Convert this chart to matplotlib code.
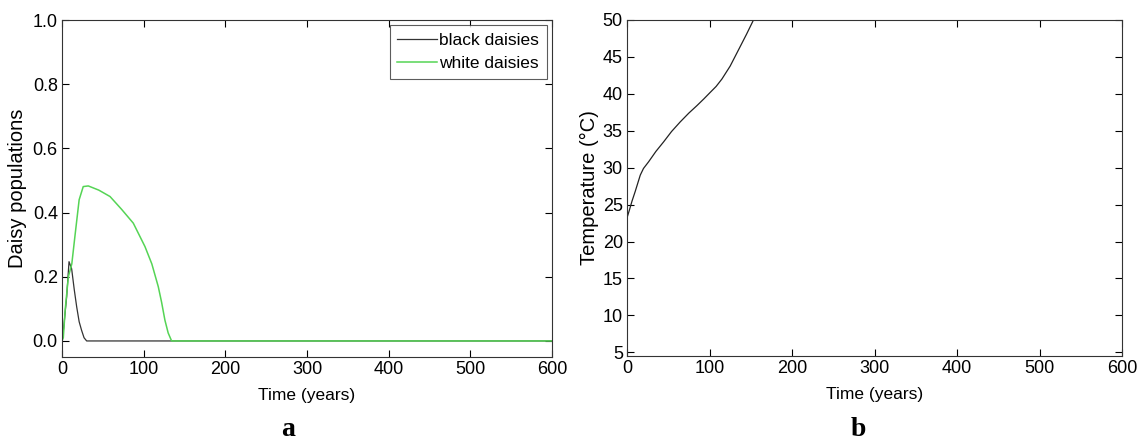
import matplotlib
matplotlib.use("Agg")
import matplotlib.pyplot as plt

plt.rcParams['font.family'] = ['Liberation Sans', 'DejaVu Sans']
plt.rcParams['font.size'] = 12

# Daisy populations over time
t_black = [0, 2, 5.7, 8.6, 11.8, 15, 18, 21, 24, 27, 30.2, 60, 200, 400, 600]
black = [0, 0.04, 0.1375, 0.247, 0.225, 0.16, 0.106, 0.06, 0.033, 0.01, 0, 0, 0, 0, 0]

t_white = [0, 1.6, 4, 7.8, 12, 16, 21, 26, 32.2, 45, 58.8, 73, 87.3, 101.6,
           110, 117.9, 122, 126, 130, 134.2, 200, 400, 600]
white = [0, 0.01, 0.1, 0.2, 0.24, 0.33, 0.44, 0.481, 0.483, 0.47, 0.45, 0.41,
         0.367, 0.294, 0.24, 0.169, 0.12, 0.065, 0.025, 0, 0, 0, 0]

# Global temperature over time
t_temp = [0, 3, 6, 10, 16.1, 20, 26.2, 35, 44.4, 54, 64.5, 75, 84.7, 93,
          100.9, 108, 115, 125, 137.2, 145, 153.3]
temp = [23.2, 24.3, 25.45, 26.8, 29.0, 29.9, 30.8, 32.2, 33.5, 34.9, 36.2,
        37.4, 38.4, 39.3, 40.2, 41.0, 42.0, 43.75, 46.4, 48.1, 50.0]

x_ticks = [0, 100, 200, 300, 400, 500, 600]
pop_ticks = [0.0, 0.2, 0.4, 0.6, 0.8, 1.0]
temp_ticks = [5, 10, 15, 20, 25, 30, 35, 40, 45, 50]

fig = plt.figure(figsize=(11.4, 4.42), dpi=100)
ax1 = fig.add_axes([62 / 1140, 1 - 357 / 442, 490 / 1140, 337 / 442])
ax2 = fig.add_axes([627 / 1140, 1 - 356 / 442, 495 / 1140, 336 / 442])


def style(ax):
    ax.tick_params(direction='in', top=True, right=True, length=5, width=0.8,
                   labelsize=13, pad=3)
    for s in ax.spines.values():
        s.set_linewidth(0.8)
        s.set_color('#333333')


ax1.plot(t_black, black, color='#333333', lw=0.9, label='black daisies')
ax1.plot(t_white, white, color='#55d455', lw=1.1, label='white daisies')
ax1.set_xlim(0, 600)
ax1.set_ylim(-0.05, 1.0)
ax1.set_xticks(x_ticks)
ax1.set_yticks(pop_ticks)
ax1.set_yticklabels([f'{v:.1f}' for v in pop_ticks])
ax1.set_xlabel('Time (years)', fontsize=12.5, labelpad=7)
ax1.set_ylabel('Daisy populations', fontsize=14.5, labelpad=4)
style(ax1)
leg = ax1.legend(loc='upper right', fontsize=12.5, frameon=True, fancybox=False,
                 edgecolor='#333333', borderpad=0.45, labelspacing=0.45,
                 handlelength=2.3, handletextpad=0.1, borderaxespad=0.3)
leg.get_frame().set_linewidth(0.8)

ax2.plot(t_temp, temp, color='#222222', lw=0.9)
ax2.set_xlim(0, 600)
ax2.set_ylim(4.5, 50)
ax2.set_xticks(x_ticks)
ax2.set_yticks(temp_ticks)
ax2.set_xlabel('Time (years)', fontsize=12.5, labelpad=7)
ax2.set_ylabel('Temperature (°C)', fontsize=14.5, labelpad=3)
style(ax2)

fig.text(288 / 1140, 1 - 430 / 442, 'a', ha='center', va='center',
         family=['Liberation Serif', 'DejaVu Serif'], weight='bold', fontsize=20)
fig.text(858 / 1140, 1 - 430 / 442, 'b', ha='center', va='center',
         family=['Liberation Serif', 'DejaVu Serif'], weight='bold', fontsize=20)

fig.savefig('out.png', dpi=100)
